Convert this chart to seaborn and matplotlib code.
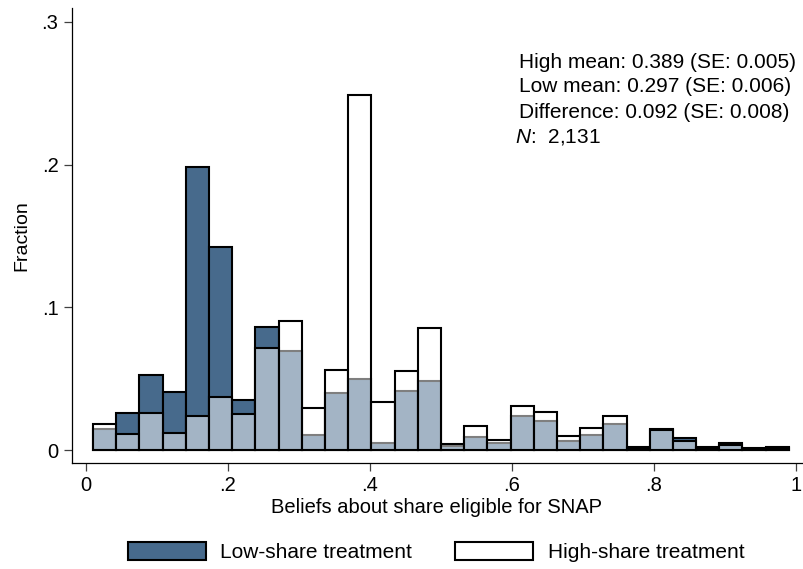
import numpy as np
import pandas as pd
import matplotlib
matplotlib.use("Agg")
import matplotlib.pyplot as plt
import seaborn as sns
from matplotlib.patches import Patch

# ---------------- data ----------------
bin_start = 0.01
bin_end = 0.99
n_bins = 30

low_share = [0.0145, 0.0257, 0.0526, 0.0404, 0.1986, 0.1423, 0.0350, 0.0860,
             0.0694, 0.0108, 0.0400, 0.0495, 0.0047, 0.0416, 0.0486, 0.0030,
             0.0091, 0.0047, 0.0236, 0.0206, 0.0065, 0.0105, 0.0182, 0.0021,
             0.0148, 0.0082, 0.0021, 0.0051, 0.0011, 0.0019]
high_share = [0.0182, 0.0112, 0.0257, 0.0117, 0.0238, 0.0369, 0.0250, 0.0717,
              0.0906, 0.0297, 0.0561, 0.2488, 0.0334, 0.0554, 0.0853, 0.0045,
              0.0166, 0.0068, 0.0306, 0.0268, 0.0098, 0.0157, 0.0241, 0.0017,
              0.0140, 0.0063, 0.0017, 0.0035, 0.0009, 0.0016]

series_names = ["Low-share treatment", "High-share treatment"]
x_ticks = [0, 0.2, 0.4, 0.6, 0.8, 1.0]
x_tick_labels = ["0", ".2", ".4", ".6", ".8", "1"]
y_ticks = [0, 0.1, 0.2, 0.3]
y_tick_labels = ["0", ".1", ".2", ".3"]
x_title = "Beliefs about share eligible for SNAP"
y_title = "Fraction"
stats_lines = ["High mean: 0.389 (SE: 0.005)",
               "Low mean: 0.297 (SE: 0.006)",
               "Difference: 0.092 (SE: 0.008)"]
n_obs = "2,131"

# ---------------- build table ----------------
edges = np.linspace(bin_start, bin_end, n_bins + 1)
centers = (edges[:-1] + edges[1:]) / 2
df = pd.DataFrame({
    "belief": np.concatenate([centers, centers]),
    "fraction": low_share + high_share,
    "group": [series_names[0]] * n_bins + [series_names[1]] * n_bins,
})

# ---------------- style ----------------
sns.set_theme(style="ticks")
plt.rcParams["font.family"] = ["Liberation Sans", "DejaVu Sans"]
plt.rcParams["mathtext.fontset"] = "custom"
plt.rcParams["mathtext.it"] = "Liberation Sans:italic"
plt.rcParams["mathtext.rm"] = "Liberation Sans"
plt.rcParams["text.color"] = "black"
plt.rcParams["axes.labelcolor"] = "black"
plt.rcParams["xtick.labelcolor"] = "black"
plt.rcParams["ytick.labelcolor"] = "black"

DARK = "#476A8C"
FS = 14.5

W, H = 804, 569
fig = plt.figure(figsize=(W / 100, H / 100), dpi=100)
ax_l, ax_r, ax_t, ax_b = 72, 802, 8, 463
ax = fig.add_axes([ax_l / W, 1 - ax_b / H, (ax_r - ax_l) / W, (ax_b - ax_t) / H])

sns.histplot(data=df[df["group"] == series_names[0]], x="belief", weights="fraction",
             bins=n_bins, binrange=(bin_start, bin_end),
             facecolor=DARK, edgecolor="black", linewidth=1.5, ax=ax)
sns.histplot(data=df[df["group"] == series_names[1]], x="belief", weights="fraction",
             bins=n_bins, binrange=(bin_start, bin_end),
             facecolor=(1, 1, 1, 0.5), edgecolor="black", linewidth=1.5, ax=ax)

ax.set_xlim(-0.0197, 1.0085)
ax.set_ylim(-0.0091, 0.3097)
ax.set_xticks(x_ticks)
ax.set_xticklabels(x_tick_labels)
ax.set_yticks(y_ticks)
ax.set_yticklabels(y_tick_labels)
ax.tick_params(axis="x", length=5.5, width=0.9, color="#404040", pad=4, labelsize=FS,
               labelcolor="black")
ax.tick_params(axis="y", length=5.8, width=0.9, color="#404040", pad=4, labelsize=FS,
               labelcolor="black")
ax.set_xlabel(x_title, fontsize=FS, labelpad=2, color="black")
ax.set_ylabel(y_title, fontsize=14, labelpad=8, color="black")
sns.despine(ax=ax)
for s in ["left", "bottom"]:
    ax.spines[s].set_linewidth(0.9)
    ax.spines[s].set_color("black")

# annotation text
line_y = [62, 87, 112]
for txt, yy in zip(stats_lines, line_y):
    fig.text(519 / W, 1 - yy / H, txt, fontsize=15, ha="left", va="center", color="black")
fig.text(515 / W, 1 - 137 / H, r"$N$:  " + n_obs, fontsize=15, ha="left", va="center",
         color="black")

# legend
handles = [Patch(facecolor=DARK, edgecolor="black", linewidth=1.5),
           Patch(facecolor="white", edgecolor="black", linewidth=1.5)]
leg = fig.legend(handles, series_names, loc="center", bbox_to_anchor=(436 / W, 1 - 552 / H),
                 ncol=2, frameon=False, fontsize=15, handlelength=3.75, handleheight=1.0,
                 handletextpad=0.7, columnspacing=2.05)
for t in leg.get_texts():
    t.set_color("black")

fig.savefig("out.png", dpi=100)
